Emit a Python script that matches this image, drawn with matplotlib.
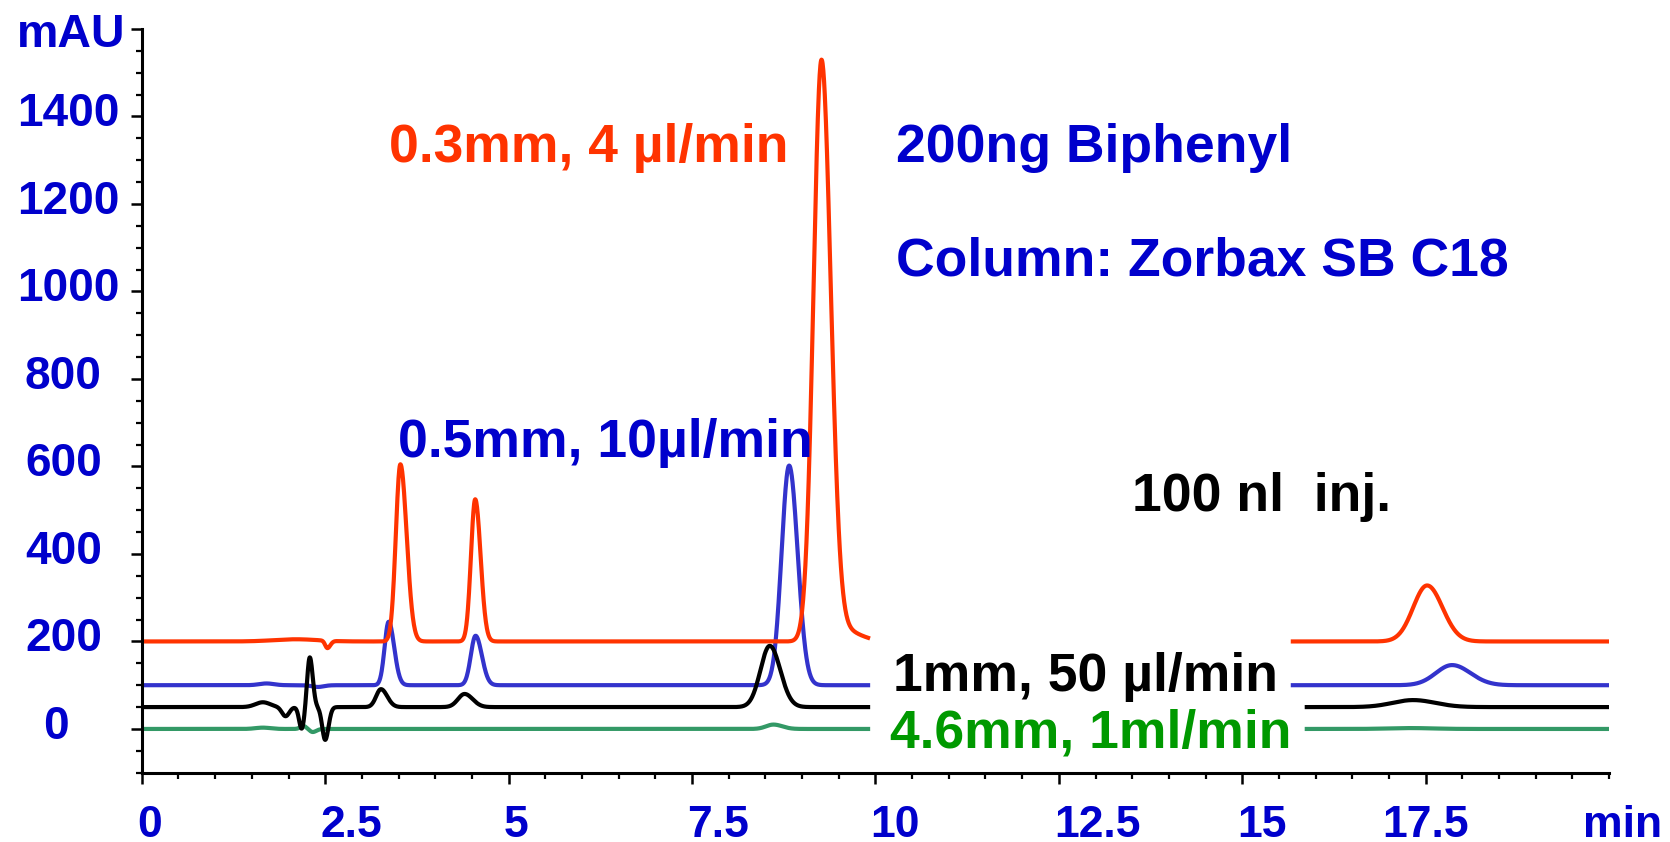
import numpy as np
import matplotlib.pyplot as plt
from matplotlib.transforms import blended_transform_factory, offset_copy

plt.rcParams['font.family'] = ['Liberation Sans', 'DejaVu Sans']
plt.rcParams['font.weight'] = 'bold'

# peak tables: retention time (min), height (mAU),
# left / right half-width (min). baseline offset per trace in mAU
red_base = 200
red_rt = [2.10, 2.53, 3.525, 4.545, 9.265, 9.50, 17.52]
red_h = [5, -17, 405, 325, 1328, 30, 128]
red_sl = [0.30, 0.03, 0.062, 0.058, 0.109, 0.10, 0.19]
red_sr = [0.30, 0.04, 0.085, 0.073, 0.125, 0.25, 0.21]

blue_base = 100
blue_rt = [1.70, 2.40, 3.365, 4.55, 8.824, 17.86]
blue_h = [4, -4, 145, 113, 502, 46]
blue_sl = [0.10, 0.08, 0.055, 0.065, 0.103, 0.22]
blue_sr = [0.10, 0.08, 0.075, 0.085, 0.116, 0.25]

black_base = 50
black_rt = [1.65, 1.96, 2.18, 2.29, 2.50, 3.26, 4.40, 8.56, 17.33]
black_h = [11, -21, -50, 114, -75, 41, 30, 140, 16]
black_sl = [0.10, 0.05, 0.035, 0.035, 0.04, 0.065, 0.09, 0.127, 0.28]
black_sr = [0.10, 0.05, 0.035, 0.040, 0.045, 0.085, 0.11, 0.143, 0.30]

green_base = 0
green_rt = [1.65, 2.20, 2.33, 8.61, 17.30]
green_h = [3, 7, -7, 10, 2]
green_sl = [0.10, 0.04, 0.04, 0.10, 0.30]
green_sr = [0.10, 0.04, 0.05, 0.12, 0.30]

xticks = [0, 2.5, 5, 7.5, 10, 12.5, 15, 17.5]
xticklabels = ['0', '2.5', '5', '7.5', '10', '12.5', '15', '17.5']
yticks = [0, 200, 400, 600, 800, 1000, 1200, 1400]

t = np.linspace(0, 20, 4001)


def trace(base, rt, h, sl, sr, gap_end):
    y = np.full_like(t, float(base))
    for p, a, s1, s2 in zip(rt, h, sl, sr):
        s = np.where(t < p, s1, s2)
        y += a * np.exp(-0.5 * ((t - p) / s) ** 2)
    # the middle part of the record is blanked out for the labels
    y[(t > 9.9) & (t < gap_end)] = np.nan
    return y


fig = plt.figure(figsize=(16.7, 8.42), dpi=100)
ax = fig.add_axes([0.0849, 0.0823, 0.8786, 0.8833])

lw = 3
ax.plot(t, trace(green_base, green_rt, green_h, green_sl, green_sr, 15.88), color='#339966', lw=lw)
ax.plot(t, trace(blue_base, blue_rt, blue_h, blue_sl, blue_sr, 15.69), color='#3333CC', lw=lw)
ax.plot(t, trace(black_base, black_rt, black_h, black_sl, black_sr, 15.88), color='black', lw=lw)
ax.plot(t, trace(red_base, red_rt, red_h, red_sl, red_sr, 15.69), color='#FF3300', lw=lw)

ax.set_xlim(0, 20)
ax.set_ylim(-100, 1600)
for s in ['top', 'right']:
    ax.spines[s].set_visible(False)
for s in ['left', 'bottom']:
    ax.spines[s].set_linewidth(2.2)

ax.set_xticks(xticks)
ax.set_xticks(np.arange(0, 20.01, 0.5), minor=True)
ax.set_yticks(yticks + [1600])
ax.set_yticks(np.arange(-100, 1601, 50), minor=True)
ax.tick_params(which='major', length=8, width=1.8, labelbottom=False, labelleft=False)
ax.tick_params(which='minor', length=4, width=1.6)

blue_txt = '#0000CC'

# x tick labels, placed like the original (mostly left aligned at the tick)
xtr = offset_copy(ax.get_xaxis_transform(), fig=fig, x=-5, y=-64, units='dots')
xtr_c = offset_copy(ax.get_xaxis_transform(), fig=fig, y=-64, units='dots')
for v, lab in zip(xticks, xticklabels):
    if lab == '17.5':
        fig.text(v, 0, lab, transform=xtr_c, ha='center', va='baseline', fontsize=32, color=blue_txt)
    else:
        fig.text(v, 0, lab, transform=xtr, ha='left', va='baseline', fontsize=32, color=blue_txt)

# y tick labels
ytr = offset_copy(blended_transform_factory(fig.transFigure, ax.transData), fig=fig, y=-10, units='dots')
left_px = {1: 43, 3: 25, 4: 17}
for v in yticks:
    lab = str(v)
    fig.text(left_px[len(lab)] / 1670, v, lab, transform=ytr, ha='left', va='baseline',
             fontsize=33, color=blue_txt)

fig.text(17 / 1670, 1 - 47 / 842, 'mAU', fontsize=33.5, color=blue_txt, va='baseline')
fig.text(1583 / 1670, 1 - 837 / 842, 'min', fontsize=32, color=blue_txt, va='baseline')


def label(x, y, s, c):
    fig.text(x / 1670, 1 - y / 842, s, fontsize=38.5, color=c, ha='left', va='baseline')


label(389, 162, '0.3mm, 4 µl/min', '#FF3300')
label(896, 162, '200ng Biphenyl', blue_txt)
label(896, 275, 'Column: Zorbax SB C18', blue_txt)
label(398, 457, '0.5mm, 10µl/min', blue_txt)
label(1132, 511, '100 nl  inj.', 'black')
label(893, 691, '1mm, 50 µl/min', 'black')
label(890, 748, '4.6mm, 1ml/min', '#009900')

fig.savefig('out.png', dpi=100)
